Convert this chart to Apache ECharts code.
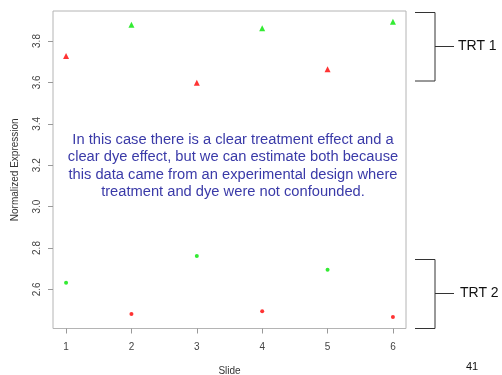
<!DOCTYPE html>
<html><head><meta charset="utf-8">
<script src="https://cdn.jsdelivr.net/npm/echarts@6/dist/echarts.min.js"></script>
<style>html,body{margin:0;padding:0;background:#fff}#c{width:502px;height:375px}</style>
</head><body><div id="c"></div>
<script>
const slides = [1, 2, 3, 4, 5, 6];
const xTicks = [1, 2, 3, 4, 5, 6];
const yTicks = [2.6, 2.8, 3.0, 3.2, 3.4, 3.6, 3.8];
// TRT 1 (triangles)
const trt1Red = [[1, 3.727], [3, 3.598], [5, 3.664]];
const trt1Green = [[2, 3.878], [4, 3.862], [6, 3.893]];
// TRT 2 (dots)
const trt2Green = [[1, 2.632], [3, 2.761], [5, 2.695]];
const trt2Red = [[2, 2.481], [4, 2.494], [6, 2.466]];
const noteLines = [
  'In this case there is a clear treatment effect and a',
  'clear dye effect, but we can estimate both because',
  'this data came from an experimental design where',
  'treatment and dye were not confounded.'
];

const chart = echarts.init(document.getElementById('c'));
const font = 'Liberation Sans, Arial, sans-serif';
chart.setOption({
  animation: false,
  grid: { left: 53, right: 96, top: 11, bottom: 46.5, show: true, borderColor: '#b4b4b4', borderWidth: 1,
    containLabel: false, outerBoundsMode: 'none' },
  xAxis: {
    type: 'value', min: 0.8, max: 6.2,
    name: 'Slide', nameLocation: 'middle', nameGap: 38,
    nameTextStyle: { fontFamily: font, fontSize: 10, color: '#333' },
    axisLine: { show: false },
    axisTick: { show: true, length: 5, lineStyle: { color: '#999' }, customValues: xTicks },
    axisLabel: { fontFamily: font, fontSize: 10, color: '#444', margin: 14, customValues: xTicks },
    splitLine: { show: false }
  },
  yAxis: {
    type: 'value', min: 2.411, max: 3.945,
    name: 'Normalized Expression', nameLocation: 'middle', nameGap: 33, nameRotate: 90,
    nameTextStyle: { fontFamily: font, fontSize: 10, color: '#333' },
    axisLine: { show: false },
    axisTick: { show: true, length: 5, lineStyle: { color: '#999' }, customValues: yTicks },
    axisLabel: { fontFamily: font, fontSize: 10, color: '#444', margin: 11, rotate: 90,
      customValues: yTicks, formatter: v => v.toFixed(1) },
    splitLine: { show: false }
  },
  series: [
    { type: 'scatter', data: trt1Red, symbol: 'triangle', symbolSize: 6, itemStyle: { color: '#ff0000' } },
    { type: 'scatter', data: trt1Green, symbol: 'triangle', symbolSize: 6, itemStyle: { color: '#00e600' } },
    { type: 'scatter', data: trt2Green, symbol: 'circle', symbolSize: 4, itemStyle: { color: '#00e600' } },
    { type: 'scatter', data: trt2Red, symbol: 'circle', symbolSize: 4, itemStyle: { color: '#ff0000' } }
  ],
  graphic: [
    { type: 'text', x: 233, y: 131, silent: true, style: {
      text: noteLines.join('\n'), fontFamily: font, fontSize: 14.7, lineHeight: 17.4,
      fill: '#3a3aa8', align: 'center', verticalAlign: 'top' } },
    { type: 'polyline', shape: { points: [[415, 12.5], [435, 12.5], [435, 81], [415, 81]] }, style: { stroke: '#333', lineWidth: 1, fill: null } },
    { type: 'line', shape: { x1: 435, y1: 46.5, x2: 454, y2: 46.5 }, style: { stroke: '#333', lineWidth: 1 } },
    { type: 'text', x: 458, y: 46.5, style: { text: 'TRT 1', fontFamily: font, fontSize: 14, fill: '#111', verticalAlign: 'middle' } },
    { type: 'polyline', shape: { points: [[415, 259.5], [435, 259.5], [435, 328.5], [415, 328.5]] }, style: { stroke: '#333', lineWidth: 1, fill: null } },
    { type: 'line', shape: { x1: 435, y1: 293.5, x2: 454, y2: 293.5 }, style: { stroke: '#333', lineWidth: 1 } },
    { type: 'text', x: 460, y: 293.5, style: { text: 'TRT 2', fontFamily: font, fontSize: 14, fill: '#111', verticalAlign: 'middle' } },
    { type: 'text', x: 472, y: 366.5, style: { text: '41', fontFamily: font, fontSize: 11, fill: '#111', align: 'center', verticalAlign: 'middle' } }
  ]
});
</script></body></html>
